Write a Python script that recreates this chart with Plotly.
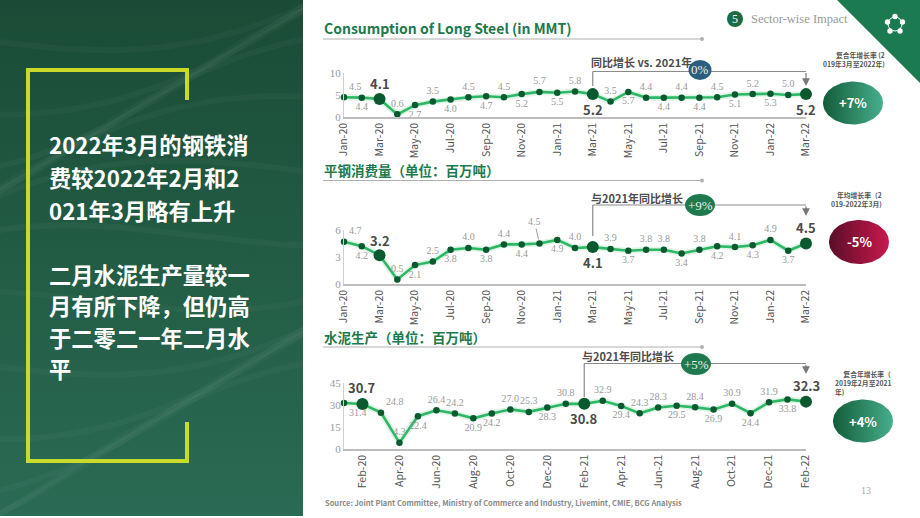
import numpy as np
import plotly.graph_objects as go

W, H = 920, 518

# ---------------- data ----------------
months_steel = ['Jan-20', 'Feb-20', 'Mar-20', 'Apr-20', 'May-20', 'Jun-20', 'Jul-20', 'Aug-20', 'Sep-20',
                'Oct-20', 'Nov-20', 'Dec-20', 'Jan-21', 'Feb-21', 'Mar-21', 'Apr-21', 'May-21', 'Jun-21',
                'Jul-21', 'Aug-21', 'Sep-21', 'Oct-21', 'Nov-21', 'Dec-21', 'Jan-22', 'Feb-22', 'Mar-22']
long_steel = [4.5, 4.4, 4.1, 0.6, 2.7, 3.5, 4.0, 4.5, 4.7, 4.5, 5.2, 5.7, 5.5, 5.8, 5.2, 3.5, 5.7, 4.4,
              4.4, 4.4, 4.4, 4.5, 5.1, 5.2, 5.3, 5.0, 5.2]
flat_steel = [4.7, 4.2, 3.2, 0.5, 2.1, 2.5, 3.8, 4.0, 3.8, 4.4, 4.4, 4.5, 4.9, 4.0, 4.1, 3.9, 3.7, 3.8,
              3.8, 3.4, 3.8, 4.2, 4.1, 4.3, 4.9, 3.7, 4.5]
months_cement = ['Jan-20', 'Feb-20', 'Mar-20', 'Apr-20', 'May-20', 'Jun-20', 'Jul-20', 'Aug-20', 'Sep-20',
                 'Oct-20', 'Nov-20', 'Dec-20', 'Jan-21', 'Feb-21', 'Mar-21', 'Apr-21', 'May-21', 'Jun-21',
                 'Jul-21', 'Aug-21', 'Sep-21', 'Oct-21', 'Nov-21', 'Dec-21', 'Jan-22', 'Feb-22']
cement = [31.4, 30.7, 24.8, 4.3, 22.4, 26.4, 24.2, 20.9, 24.2, 27.0, 25.3, 28.3, 30.8, 30.8, 32.9, 29.4,
          24.3, 28.3, 29.5, 28.4, 26.9, 30.9, 24.4, 31.9, 33.8, 32.3]

key_steel = ['Mar-20', 'Mar-21', 'Mar-22']
key_cement = ['Feb-20', 'Feb-21', 'Feb-22']
yoy_badges = ['0%', '+9%', '+5%']
cagr_badges = ['+7%', '-5%', '+4%']

# ---------------- styles ----------------
A, B = 'top center', 'bottom center'
pos_long = ['top right', B, A, A, B, A, B, A, B, A, B, A, B, A, B, A, B, A, B, A, B, A, B, A, B, A, B]
pos_flat = ['top right', B, A, A, B, A, B, A, B, A, B, A, B, A, B, A, B, A, A, B, A, B, A, B, A, B, A]
pos_cem = ['bottom right', A, 'top right', A, B, A, A, B, B, A, A, B, A, B, A, B, A, A, B, A, B, A, B, A, B, A]
key_shift_long = [15, -15, -15]
key_shift_flat = [15, -15, 16]
key_shift_cem = [16, -15, 16]

LINE = '#2db865'
MARK = '#0b5a2f'
SANS = 'Noto Sans CJK SC'
SERIF = 'Liberation Serif'


def px(x):
    return x / W


def py(y):
    return 1 - y / H


fig = go.Figure()
annotations = []
shapes = []


def note(x, y, text, font, xanchor='center', yanchor='middle', **kw):
    annotations.append(dict(x=px(x), y=py(y), xref='paper', yref='paper', text=text, showarrow=False,
                            xanchor=xanchor, yanchor=yanchor, font=font, **kw))


# ---------------- left panel (decor, pixel overlay axis) ----------------
fig.add_trace(go.Scatter(x=[0, 303, 303, 0, 0], y=[0, 0, 516, 516, 0], mode='lines', fill='toself',
                         line=dict(width=0), xaxis='x4', yaxis='y4', hoverinfo='skip',
                         fillcolor='#1f5840',
                         fillgradient=dict(type='vertical',
                                           colorscale=[[0, '#2b6a54'], [0.5, '#225c45'], [1, '#1a4b36']])))
# faint texture
for k in range(14):
    t = np.linspace(0, 1, 40)
    xs = -20 + 340 * t
    ys = 40 + k * 36 + 60 * np.sin(2.2 * t + k * 0.7) - 90 * t
    fig.add_trace(go.Scatter(x=xs, y=ys, mode='lines', line=dict(color='rgba(255,255,255,0.03)', width=6),
                             xaxis='x4', yaxis='y4', hoverinfo='skip'))


# right-side gradient ellipses
def ellipse(cx, cy, rx, ry, n=90):
    t = np.linspace(0, 2 * np.pi, n)
    return cx + rx * np.cos(t), cy + ry * np.sin(t)


ell_specs = [((853, 103, 30, 21.5), [[0, '#145d39'], [1, '#46ae8d']]),
             ((859, 242, 30, 22), [[0, '#5a0e29'], [1, '#c9184d']]),
             ((863, 421, 30, 21.5), [[0, '#145d39'], [1, '#46ae8d']])]
for (cx, cy, rx, ry), cs in ell_specs:
    ex, ey = ellipse(cx, cy, rx, ry)
    fig.add_trace(go.Scatter(x=ex, y=ey, mode='lines', fill='toself', line=dict(width=0),
                             fillcolor=cs[0][1], fillgradient=dict(type='horizontal', colorscale=cs),
                             xaxis='x4', yaxis='y4', hoverinfo='skip'))


# ---------------- charts ----------------
def add_chart(idx, cats, vals, keys, pos, key_shifts, xdom_px, ydom_px, yr, ytv, tick_start):
    sfx = '' if idx == 1 else str(idx)
    n = len(cats)
    xi = list(range(n))
    key_idx = [cats.index(k) for k in keys]
    texts = ['' if i in key_idx else f'{v:.1f}' for i, v in enumerate(vals)]
    sizes = [12 if i in key_idx else 6.5 for i in range(n)]
    fig.add_trace(go.Scatter(x=xi, y=vals, mode='lines', line=dict(color='rgba(45,184,101,0.15)', width=6),
                             xaxis='x' + sfx, yaxis='y' + sfx, hoverinfo='skip', cliponaxis=False))
    fig.add_trace(go.Scatter(x=xi, y=vals, mode='lines+markers+text', text=texts, textposition=pos,
                             textfont=dict(family=SERIF, size=10, color='#9a9a9a'),
                             line=dict(color=LINE, width=2.6),
                             marker=dict(color=MARK, size=sizes, opacity=1, line=dict(width=0)),
                             xaxis='x' + sfx, yaxis='y' + sfx, cliponaxis=False))
    for k, sh in zip(key_idx, key_shifts):
        annotations.append(dict(x=k, y=vals[k], xref='x' + sfx, yref='y' + sfx, text=f'<b>{vals[k]:.1f}</b>',
                                showarrow=False, yshift=sh, xanchor='center', yanchor='middle',
                                font=dict(family=SANS, size=13, color='#4a4a4a')))
    tv = list(range(tick_start, n, 2))
    fig.update_layout(**{
        'xaxis' + sfx: dict(domain=[px(xdom_px[0]), px(xdom_px[1])], range=[0, n - 1], anchor='y' + sfx,
                            tickvals=tv, ticktext=[cats[i] for i in tv], tickangle=-90, automargin=False,
                            tickfont=dict(family=SANS, size=10.5, color='#555'),
                            showline=True, linecolor='#bdbdbd', linewidth=1.5, showgrid=False,
                            zeroline=False, ticks=''),
        'yaxis' + sfx: dict(domain=[py(ydom_px[0]), py(ydom_px[1])], range=yr, anchor='x' + sfx,
                            tickvals=ytv, tickfont=dict(family=SERIF, size=11, color='#9a9a9a'),
                            showline=True, linecolor='#d0d0d0', linewidth=1, showgrid=False, automargin=False,
                            zeroline=False, ticks=''),
    })
    return key_idx, len(fig.data) - 1


k1, _ = add_chart(1, months_steel, long_steel, key_steel, pos_long, key_shift_long, (344, 806), (117, 73),
                  [0, 10], [0, 5, 10], 0)
k2, t2 = add_chart(2, months_steel, flat_steel, key_steel, pos_flat, key_shift_flat, (344, 806), (284, 230),
                   [0, 6], [0, 3, 6], 0)
k3, _ = add_chart(3, months_cement, cement, key_cement, pos_cem, key_shift_cem, (344, 806), (449, 383),
                  [0, 45], [0, 15, 30, 45], 1)

# leader-line label for Dec-20 on flat steel chart
dec_i = months_steel.index('Dec-20')
fig.data[t2].text = tuple('' if i == dec_i else t for i, t in enumerate(fig.data[t2].text))
annotations.append(dict(x=dec_i, y=flat_steel[dec_i], xref='x2', yref='y2', text='4.5', showarrow=True,
                        arrowhead=0, arrowwidth=0.8, arrowcolor='#888', ax=-5, ay=-22, standoff=4,
                        font=dict(family=SERIF, size=10, color='#9a9a9a')))


# ---------------- yoy brackets ----------------
def bracket(sfx, start_i, end_i, y_start_px, y_line_px, y_tip_px, label, label_y, badge, bcx, bcy, brx, bry, bcol):
    xr = 'x' + sfx
    shapes.append(dict(type='line', xref=xr, yref='paper', x0=start_i, x1=start_i, y0=py(y_start_px),
                       y1=py(y_line_px), line=dict(color='#8a8a8a', width=1.2)))
    shapes.append(dict(type='line', xref=xr, yref='paper', x0=start_i, x1=end_i, y0=py(y_line_px),
                       y1=py(y_line_px), line=dict(color='#8a8a8a', width=1.2)))
    annotations.append(dict(x=end_i, y=py(y_tip_px), xref=xr, yref='paper', text='', showarrow=True,
                            arrowhead=2, arrowsize=1.3, arrowwidth=1.2, arrowcolor='#777', ax=0,
                            ay=-(y_tip_px - y_line_px)))
    annotations.append(dict(x=start_i, y=py(label_y), xref=xr, yref='paper', text=f'<b>{label}</b>',
                            showarrow=False, xanchor='left', xshift=-4, yanchor='middle',
                            font=dict(family=SANS, size=11, color='#4d4d4d')))
    shapes.append(dict(type='circle', xref='paper', yref='paper', x0=px(bcx - brx), x1=px(bcx + brx),
                       y0=py(bcy + bry), y1=py(bcy - bry), fillcolor=bcol, line=dict(width=0), layer='above'))
    note(bcx, bcy, badge, dict(family=SERIF, size=13, color='#e8f0ec'))


bracket('', k1[1], k1[2], 86, 71.5, 86, '同比增长 vs. 2021年', 62, yoy_badges[0], 700, 70, 11.5, 10, '#2b5e7e')
bracket('2', k2[1], k2[2], 236, 205, 216, '与2021年同比增长', 198, yoy_badges[1], 700, 205, 15, 11, '#1e7a4e')
bracket('3', k3[1], k3[2], 397, 363.5, 374, '与2021年同比增长', 356, yoy_badges[2], 696, 364, 15, 11, '#1e7a4e')

# ---------------- titles ----------------
titles = [('Consumption of Long Steel (in MMT)', 28, 39),
          ('平钢消费量（单位：百万吨）', 170, 180.5),
          ('水泥生产（单位：百万吨）', 337, 347)]
for t, ty, uy in titles:
    note(322, ty, f'<b>{t}</b>', dict(family=SANS, size=14 if t.startswith('C') else 13.5, color='#1d7a4c'),
         xanchor='left')
    shapes.append(dict(type='line', xref='paper', yref='paper', x0=px(323), x1=px(702), y0=py(uy), y1=py(uy),
                       line=dict(color='#b0b0b0', width=1.2)))
    shapes.append(dict(type='circle', xref='paper', yref='paper', x0=px(700), x1=px(704), y0=py(uy + 2),
                       y1=py(uy - 2), fillcolor='#b0b0b0', line=dict(width=0)))

# right-side badge texts
cagr_pos = [(853, 103), (859, 242), (863, 421)]
for (cx, cy), b in zip(cagr_pos, cagr_badges):
    note(cx, cy, f'<b>{b}</b>', dict(family=SANS, size=13, color='white'))
small = dict(family=SANS, size=6.8, color='#555')
note(887, 60, '<b>复合年增长率 (2<br>019年3月至2022年)</b>', small, xanchor='right', align='right')
note(884, 199, '<b>年均增长率（2<br>019-2022年3月)</b>', small, xanchor='right', align='right')
note(833, 382.5, '<b>　 复合年增长率（<br>2019年2月至2021<br>年)</b>', small, xanchor='left', align='left')

# source & page number
note(323, 502, '<b>Source: Joint Plant Committee, Ministry of Commerce and Industry, Livemint, CMIE, BCG Analysis</b>',
     dict(family=SANS, size=7.5, color='#8a8a8a'), xanchor='left')
note(866, 490, '13', dict(family=SERIF, size=10, color='#aaaaaa'))

# header: section badge and triangle
shapes.append(dict(type='path', xref='paper', yref='paper',
                   path=f'M {px(837)},{py(0)} L {px(920)},{py(0)} L {px(920)},{py(83)} Z',
                   fillcolor='#1b7a50', line=dict(width=0)))
shapes.append(dict(type='circle', xref='paper', yref='paper', x0=px(888), x1=px(902), y0=py(31), y1=py(17),
                   line=dict(color='white', width=1), fillcolor='rgba(0,0,0,0)'))
for cx, cy in [(895, 16.5), (887.5, 22), (902.5, 22), (890, 31), (900, 31)]:
    shapes.append(dict(type='circle', xref='paper', yref='paper', x0=px(cx - 2.7), x1=px(cx + 2.7),
                       y0=py(cy + 2.7), y1=py(cy - 2.7), fillcolor='white', line=dict(width=0)))
shapes.append(dict(type='circle', xref='paper', yref='paper', x0=px(727), x1=px(743), y0=py(27), y1=py(11),
                   fillcolor='#1c6b44', line=dict(width=0)))
note(735, 19, '5', dict(family=SERIF, size=12, color='white'))
note(749, 19, 'Sector-wise Impact', dict(family=SERIF, size=12.5, color='#9a9a9a'), xanchor='left')

# left bracket (yellow-green)
YG = '#c9da2a'
for x0, y0, x1, y1 in [(28, 70, 28, 462), (26, 70, 189, 70), (187, 68, 187, 100),
                       (26, 461, 189, 461), (187, 422, 187, 463)]:
    shapes.append(dict(type='line', xref='paper', yref='paper', x0=px(x0), x1=px(x1), y0=py(y0), y1=py(y1),
                       line=dict(color=YG, width=4), layer='above'))

left_lines = [('2022年3月的钢铁消', 144), ('费较2022年2月和2', 177), ('021年3月略有上升', 210),
              ('二月水泥生产量较一', 274), ('月有所下降，但仍高', 305), ('于二零二一年二月水', 337), ('平', 368)]
for t, y in left_lines:
    note(47, y, f'<b>{t}</b>', dict(family=SANS, size=22.3, color='white'), xanchor='left')

fig.update_layout(
    template='none',
    width=W, height=H, margin=dict(l=0, r=0, t=0, b=0, pad=0, autoexpand=False), autosize=False,
    paper_bgcolor='white', plot_bgcolor='rgba(0,0,0,0)', showlegend=False,
    xaxis4=dict(domain=[0, 1], range=[0, W], visible=False, anchor='y4', fixedrange=True, automargin=False),
    yaxis4=dict(domain=[0, 1], range=[H, 0], visible=False, anchor='x4', fixedrange=True, automargin=False),
    annotations=annotations, shapes=shapes,
)

fig.write_html('out.html', config={'responsive': False},
               post_script="document.body.style.margin='0px';document.body.style.padding='0px';"
                           "document.documentElement.style.overflow='hidden';")
